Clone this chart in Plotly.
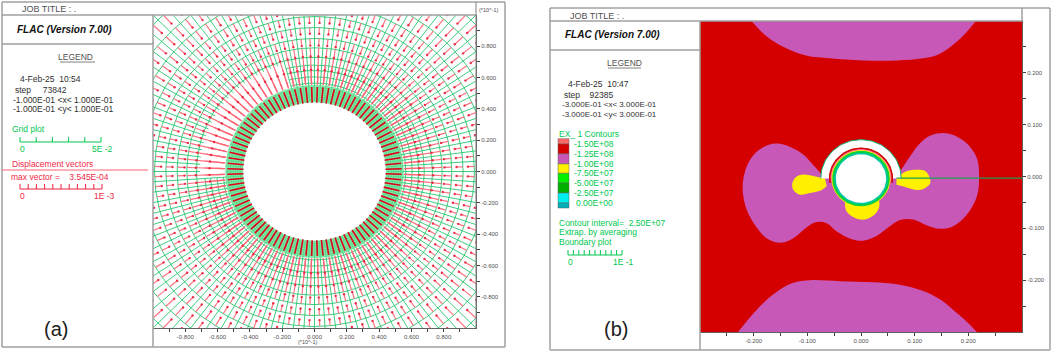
import numpy as np
import plotly.graph_objects as go

W, H = 1052, 352

# ---- panel (a): mesh rings, vector lengths per ring ----
band_rings = [0.445, 0.46, 0.475, 0.49, 0.505, 0.52, 0.535, 0.55]
gap_rings = [0.565, 0.605, 0.645, 0.68]
outer_rings = [0.73, 0.79, 0.85, 0.92, 0.99, 1.07, 1.16, 1.26, 1.37, 1.49]
spoke_count = 96
gap_from_deg, gap_to_deg = 106, 182
inner_vector_node = 0.54
inner_vector_length = 0.10
vector_rings = [0.605, 0.645, 0.68, 0.73, 0.79, 0.85, 0.92, 0.99, 1.07, 1.16, 1.26, 1.37, 1.49]
vector_length = [0.05, 0.08, 0.125, 0.08, 0.055, 0.045, 0.04, 0.04, 0.05, 0.06, 0.07, 0.075, 0.08]
head_from_ring = 0.72
a_ticks = [-0.9, -0.8, -0.7, -0.6, -0.5, -0.4, -0.3, -0.2, -0.1, 0.0, 0.1, 0.2, 0.3, 0.4, 0.5, 0.6, 0.7, 0.8, 0.9]
a_labels = ["", "-0.800", "", "-0.600", "", "-0.400", "", "-0.200", "", "0.000", "", "0.200", "", "0.400", "", "0.600", "", "0.800", ""]

# ---- panel (b): contour regions in model units ----
top_x = [-0.204, -0.185, -0.163, -0.132, -0.101, -0.058, 0.004, 0.067, 0.116, 0.147, 0.178, 0.197, 0.214]
top_y = [0.30, 0.279, 0.261, 0.244, 0.233, 0.228, 0.224, 0.224, 0.228, 0.237, 0.26, 0.279, 0.30]
bot_x = [-0.229, -0.207, -0.182, -0.151, -0.126, -0.095, -0.039, 0.023, 0.067, 0.116, 0.147, 0.178, 0.197, 0.216]
bot_y = [-0.30, -0.272, -0.244, -0.218, -0.205, -0.20, -0.202, -0.204, -0.208, -0.221, -0.237, -0.263, -0.28, -0.30]
mid_x = [-0.075, -0.089, -0.107, -0.126, -0.151, -0.173, -0.194, -0.21, -0.219, -0.22, -0.213, -0.194, -0.176, -0.151,
         -0.126, -0.101, -0.083, -0.064, -0.045, -0.02, 0.004, 0.029, 0.051, 0.073, 0.097, 0.122, 0.147, 0.172, 0.197,
         0.216, 0.22, 0.216, 0.197, 0.172, 0.153, 0.129, 0.107, 0.091, 0.073]
mid_y = [0.006, 0.022, 0.042, 0.054, 0.063, 0.061, 0.048, 0.026, -0.003, -0.032, -0.064, -0.099, -0.119, -0.128,
         -0.119, -0.098, -0.088, -0.09, -0.106, -0.12, -0.124, -0.115, -0.098, -0.084, -0.083, -0.094, -0.101, -0.096, -0.074,
         -0.038, -0.003, 0.035, 0.064, 0.08, 0.084, 0.079, 0.061, 0.038, 0.01]
yl_x = [-0.067, -0.089, -0.107, -0.12, -0.128, -0.126, -0.114, -0.095, -0.073, -0.064]
yl_y = [-0.004, 0.001, 0.004, 0.0, -0.013, -0.026, -0.035, -0.032, -0.026, -0.019]
yr_x = [0.066, 0.085, 0.104, 0.119, 0.127, 0.129, 0.116, 0.104, 0.085, 0.066]
yr_y = [-0.002, 0.01, 0.013, 0.011, 0.0, -0.013, -0.024, -0.026, -0.021, -0.016]
yb_x = [-0.03, -0.027, -0.011, 0.007, 0.026, 0.034, 0.032, 0.0]
yb_y = [-0.051, -0.067, -0.08, -0.083, -0.073, -0.058, -0.045, -0.03]
hole_rings = [0.054, 0.0525, 0.049, 0.046]
hole_colors = ["#FFF000", "#00D040", "#00C8A0", "#FFFFFF"]
arch_outer = 0.075
arch_red = 0.059
arch_pink = 0.056
hole_yc = -0.004
b_xticks = [-0.25, -0.2, -0.15, -0.1, -0.05, 0.0, 0.05, 0.1, 0.15, 0.2, 0.25]
b_xlabels = ["", "-0.200", "", "-0.100", "", "0.000", "", "0.100", "", "0.200", ""]
b_yticks = [-0.25, -0.2, -0.15, -0.1, -0.05, 0.0, 0.05, 0.1, 0.15, 0.2, 0.25]
b_ylabels = ["", "-0.200", "", "-0.100", "", "0.000", "", "0.100", "", "0.200", ""]

legend_colors = ["#FF6868", "#D40000", "#C858B8", "#FFF000", "#00F000", "#00B000", "#00F0F0", "#00B0B8"]
legend_levels = ["-1.50E+08", "-1.25E+08", "-1.00E+08", "-7.50E+07", "-5.00E+07", "-2.50E+07", "0.00E+00"]

GREEN = "rgba(30,195,105,0.85)"
RED_BG = "#D40000"
MAGENTA = "#C858B8"
YELLOW = "#FFF000"
FONT = "Liberation Sans"

theta = np.linspace(0, 2 * np.pi, spoke_count, endpoint=False)
half_step = np.pi / spoke_count
fine = np.linspace(0, 2 * np.pi, spoke_count * 2 + 1)


def in_gap(t):
    d = np.degrees(t) % 360
    return gap_from_deg < d < gap_to_deg


def ring_xy(r, skip_gap=False):
    xs, ys = [], []
    for t in fine:
        if skip_gap and in_gap(t):
            xs.append(None); ys.append(None)
        else:
            xs.append(r * np.cos(t)); ys.append(r * np.sin(t))
    xs.append(None); ys.append(None)
    return xs, ys


fig = go.Figure()

# green band as a filled annulus
rev = fine[::-1]
band_x = list(band_rings[-1] * np.cos(fine)) + list(band_rings[0] * np.cos(rev))
band_y = list(band_rings[-1] * np.sin(fine)) + list(band_rings[0] * np.sin(rev))
fig.add_trace(go.Scatter(x=band_x, y=band_y, mode="lines", fill="toself", fillcolor="#86E6A8", line=dict(width=0),
                         xaxis="x", yaxis="y", hoverinfo="skip"))

bx, by = [], []
for r in band_rings:
    a, b = ring_xy(r); bx += a; by += b
for t in theta:
    bx += [band_rings[0] * np.cos(t), band_rings[-1] * np.cos(t), None]
    by += [band_rings[0] * np.sin(t), band_rings[-1] * np.sin(t), None]
fig.add_trace(go.Scatter(x=bx, y=by, mode="lines", line=dict(color="rgba(60,215,125,0.5)", width=1), xaxis="x", yaxis="y", hoverinfo="skip"))

# mesh outer
mx, my = [], []
for r in gap_rings:
    a, b = ring_xy(r, True); mx += a; my += b
for r in outer_rings:
    a, b = ring_xy(r); mx += a; my += b
for t in theta:
    start = 0.71 if in_gap(t) else band_rings[-1]
    mx += [start * np.cos(t), outer_rings[-1] * np.cos(t), None]
    my += [start * np.sin(t), outer_rings[-1] * np.sin(t), None]
fig.add_trace(go.Scatter(x=mx, y=my, mode="lines", line=dict(color=GREEN, width=1), xaxis="x", yaxis="y", hoverinfo="skip"))

# vectors sit between the drawn spokes
vx, vy, hx, hy = [], [], [], []
for r, L in zip(vector_rings, vector_length):
    for t in theta + half_step:
        c, s = np.cos(t), np.sin(t)
        vx += [r * c, (r - L) * c, None]
        vy += [r * s, (r - L) * s, None]
        if r >= head_from_ring:
            hx.append((r - L) * c)
            hy.append((r - L) * s)
fig.add_trace(go.Scatter(x=vx, y=vy, mode="lines", line=dict(color="rgba(255,100,115,0.9)", width=1.2), xaxis="x", yaxis="y", hoverinfo="skip"))
fig.add_trace(go.Scatter(x=hx, y=hy, mode="markers", marker=dict(color="rgba(235,30,55,0.9)", size=2.4, line=dict(width=0)), xaxis="x", yaxis="y", hoverinfo="skip"))
ix, iy = [], []
for t in theta + half_step:
    c, s = np.cos(t), np.sin(t)
    ix += [inner_vector_node * c, (inner_vector_node - inner_vector_length) * c, None]
    iy += [inner_vector_node * s, (inner_vector_node - inner_vector_length) * s, None]
fig.add_trace(go.Scatter(x=ix, y=iy, mode="lines", line=dict(color="#DC0018", width=1.6), xaxis="x", yaxis="y", hoverinfo="skip"))


# panel b regions
def poly(x, y, color, line=None, smooth=False):
    fig.add_trace(go.Scatter(x=x, y=y, mode="lines", fill="toself", fillcolor=color,
                             line=dict(color=line or color, width=1 if line else 0, shape="spline" if smooth else "linear"),
                             xaxis="x2", yaxis="y2", hoverinfo="skip"))


poly(top_x, top_y, MAGENTA, smooth=True)
poly(bot_x, bot_y, MAGENTA, smooth=True)
poly(mid_x, mid_y, MAGENTA, smooth=True)
poly(yl_x, yl_y, YELLOW, smooth=True)
poly(yr_x, yr_y, YELLOW, smooth=True)
poly(yb_x, yb_y, YELLOW, smooth=True)


def arc(r, a0, a1, n=60):
    t = np.radians(np.linspace(a0, a1, n))
    return list(r * np.cos(t)), list(hole_yc + r * np.sin(t))


ax_, ay_ = arc(arch_outer, 0, 180)
poly(ax_, ay_, "#FFFFFF", line="#10B070")
ax_, ay_ = arc(arch_red, -8, 188)
poly(ax_, ay_, RED_BG, line=RED_BG)
ax_, ay_ = arc(arch_pink, -8, 188)
poly(ax_, ay_, "#FF70A0", line="#FF70A0")
for r, col in zip(hole_rings, hole_colors):
    ax_, ay_ = arc(r, 0, 360, 90)
    poly(ax_, ay_, col, line=col)
fig.add_trace(go.Scatter(x=[0.066, 0.30], y=[-0.003, -0.003], mode="lines", line=dict(color="#1CA050", width=1.2),
                         xaxis="x2", yaxis="y2", hoverinfo="skip"))

shapes = []


def line(x0, y0, x1, y1, color="#A0A0A0", width=1.5):
    shapes.append(dict(type="line", xref="paper", yref="paper", x0=x0 / W, x1=x1 / W, y0=1 - y0 / H, y1=1 - y1 / H,
                       line=dict(color=color, width=width)))


# frames (a)
line(2, 2, 505, 2); line(2, 347, 505, 347); line(2, 2, 2, 347); line(505, 2, 505, 347)
line(2, 15, 476, 15); line(2, 44, 153, 44); line(153, 15, 153, 347); line(476, 2, 476, 328, "#808080", 1)
# frames (b)
line(550, 8, 1050, 8); line(550, 350, 1050, 350); line(550, 8, 550, 350); line(1050, 8, 1050, 350)
line(550, 21, 1022, 21); line(550, 50, 700, 50); line(700, 21, 700, 350); line(1022, 8, 1022, 21)
# underlines
line(60, 62, 95, 62, "#808080", 1); line(608, 68, 641, 68, "#808080", 1)
line(2, 170, 148, 170, "#FF6070", 1)


def scale(x0, x1, y, n, color, tall=5):
    line(x0, y, x1, y, color, 1)
    for i in range(n + 1):
        xp = x0 + (x1 - x0) * i / n
        line(xp, y, xp, y - tall, color, 1)


scale(20, 101, 142, 5, "#00C850")
scale(20, 102, 189, 10, "#F02040")
scale(568, 622, 255, 10, "#00C850")

# legend colour bar
seg_top = 138.7
seg_h = [5.3, 9.9, 10, 9.4, 9.7, 10, 10, 5]
for col, h in zip(legend_colors, seg_h):
    shapes.append(dict(type="rect", xref="paper", yref="paper", x0=558 / W, x1=569 / W, y0=1 - seg_top / H, y1=1 - (seg_top + h) / H,
                       fillcolor=col, line=dict(color="#606060", width=0.5)))
    seg_top += h
# red background of panel b
shapes.append(dict(type="rect", xref="x2", yref="y2", x0=-0.3, x1=0.3, y0=-0.3, y1=0.3, fillcolor=RED_BG, line=dict(width=0), layer="below"))

anns = []


def txt(x, y, s, size=8.5, color="#303030", anchor="left"):
    if anchor == "left":
        x -= 2
    anns.append(dict(xref="paper", yref="paper", x=x / W, y=1 - y / H, text=s, showarrow=False, xanchor=anchor, yanchor="middle",
                     font=dict(family=FONT, size=size, color=color)))


G = "#00C850"
R = "#F02848"
txt(22, 9.5, "JOB TITLE : .", 9, "#505050")
txt(17, 29, "<b><i>FLAC (Version 7.00)</i></b>", 10, "#101010")
txt(76, 57, "LEGEND", 8.5, "#505050", "center")
txt(20, 79, "4-Feb-25  10:54")
txt(15, 89.5, "step     73842")
txt(13, 99.5, "-1.000E-01 &lt;x&lt; 1.000E-01")
txt(13, 109, "-1.000E-01 &lt;y&lt; 1.000E-01")
txt(12, 129, "Grid plot", 8.5, G)
txt(22, 149, "0", 8.5, G, "center")
txt(102, 149, "5E -2", 8.5, G, "center")
txt(12, 164, "Displacement vectors", 8.5, R)
txt(11, 176.5, "max vector =    3.545E-04", 8.5, R)
txt(22, 196, "0", 8.5, R, "center")
txt(104, 196, "1E -3", 8.5, R, "center")
txt(56, 329, "(a)", 20, "#202020", "center")
txt(489, 10, "(*10^-1)", 5.5, "#505050", "center")
txt(308, 342, "(*10^-1)", 5.5, "#505050", "center")

txt(570, 15.5, "JOB TITLE : .", 9, "#505050")
txt(565, 34.5, "<b><i>FLAC (Version 7.00)</i></b>", 10, "#101010")
txt(624, 63, "LEGEND", 8.5, "#505050", "center")
txt(568, 84.5, "4-Feb-25  10:47")
txt(564, 94.5, "step    92385")
txt(562, 104.5, "-3.000E-01 &lt;x&lt; 3.000E-01", 8)
txt(562, 114, "-3.000E-01 &lt;y&lt; 3.000E-01", 8)
txt(559, 134, "EX_ 1 Contours", 8.5, G)
level_y = [144, 153.5, 164, 173, 183, 193, 203]
for lab, yp in zip(legend_levels, level_y):
    txt(576 if lab.startswith("0") else 574, yp, lab, 8.5, G)
txt(559, 222.5, "Contour interval=  2.50E+07", 8.5, G)
txt(559, 232, "Extrap. by averaging", 8.5, G)
txt(559, 242, "Boundary plot", 8.5, G)
txt(570, 262, "0", 8.5, G, "center")
txt(623, 262, "1E -1", 8.5, G, "center")
txt(616, 329, "(b)", 20, "#202020", "center")


def axis(domain, rng, ticks, labels, anchor, **kw):
    return dict(domain=domain, range=rng, tickmode="array", tickvals=ticks, ticktext=labels, ticks="outside", ticklen=3, tickwidth=1,
                tickcolor="#404040", tickfont=dict(family=FONT, size=6, color="#505050"), showgrid=False, zeroline=False,
                showline=True, linecolor="#606060", linewidth=1, anchor=anchor, fixedrange=True, **kw)


fig.update_layout(
    width=W, height=H, autosize=False, margin=dict(l=0, r=0, t=0, b=0), showlegend=False,
    paper_bgcolor="white", plot_bgcolor="white", shapes=shapes, annotations=anns,
    xaxis=axis([153 / W, 476 / W], [-1, 1], a_ticks, a_labels, "y"),
    yaxis=axis([1 - 328 / H, 1 - 15 / H], [-1, 1], a_ticks, a_labels, "x", side="right"),
    xaxis2=axis([700 / W, 1022 / W], [-0.3, 0.3], b_xticks, b_xlabels, "y2"),
    yaxis2=axis([1 - 332 / H, 1 - 21 / H], [-0.3, 0.3], b_yticks, b_ylabels, "x2", side="right"),
)

fig.write_html("out.html", config={"displayModeBar": False},
               post_script="document.body.style.margin='0';document.body.style.overflow='hidden';")
